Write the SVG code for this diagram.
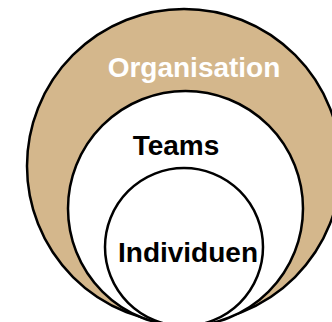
<svg xmlns="http://www.w3.org/2000/svg" width="332" height="322" viewBox="0 0 332 322">
<style>
.c{stroke:#000;stroke-width:2.5}
.t{font-family:"Liberation Sans",Arial,sans-serif;font-weight:bold;font-size:28px;text-anchor:middle}
</style>
<rect width="332" height="322" fill="#fff"/>
<g id="organisation">
<circle class="c" cx="184" cy="166" r="157" fill="#D4B78C"/>
<text class="t" x="194" y="77" fill="#fff">Organisation</text>
</g>
<g id="teams">
<circle class="c" cx="185.5" cy="208.5" r="117.5" fill="#fff"/>
<text class="t" x="176" y="155" fill="#000">Teams</text>
</g>
<g id="individuen">
<circle class="c" cx="184" cy="247" r="79" fill="#fff"/>
<text class="t" x="188" y="262" fill="#000">Individuen</text>
</g>
<g id="connectors"/>
</svg>
